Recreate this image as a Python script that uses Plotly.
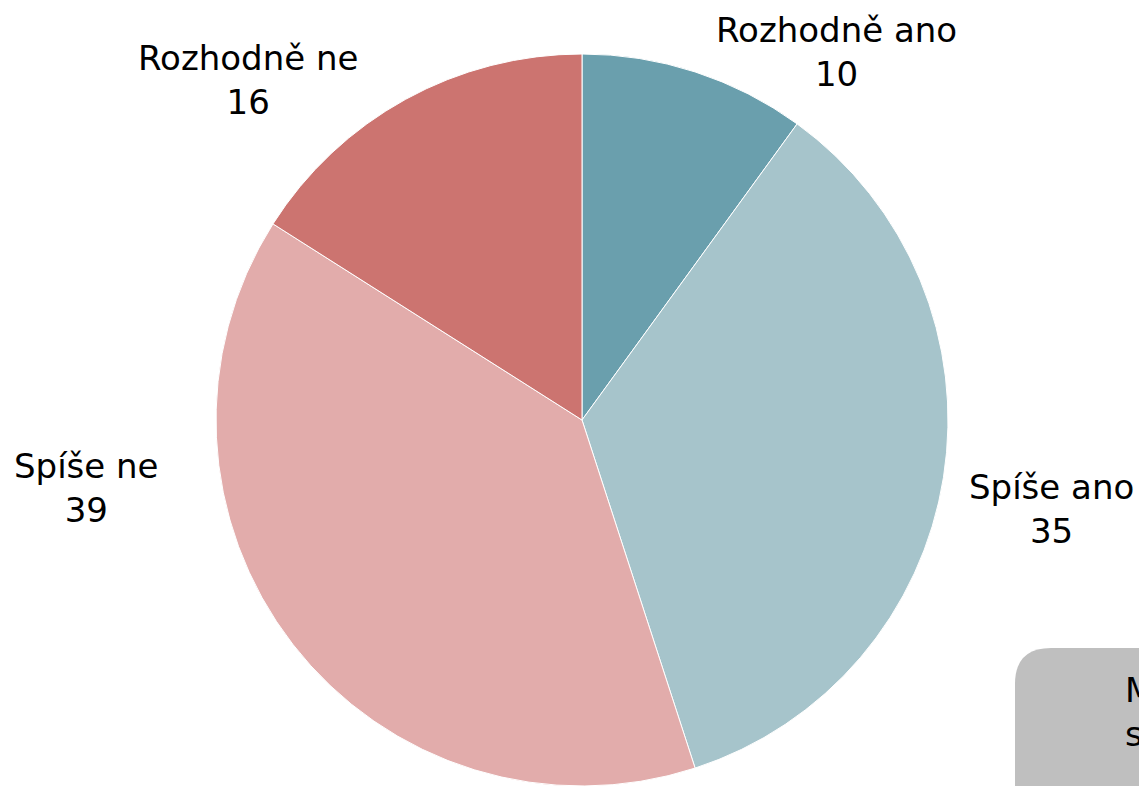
import plotly.graph_objects as go

W, H = 1139, 786

categories = ["Rozhodně ano", "Spíše ano", "Spíše ne", "Rozhodně ne"]
values = [10, 35, 39, 16]
colors = ["#6A9FAD", "#A6C4CB", "#E2ACAB", "#CC7470"]

# label centres in pixels (from top-left)
label_pos = [(836, 52), (1051, 509), (86, 488), (248, 80)]

cx, cy, r = 582, 420, 366

fig = go.Figure(go.Pie(
    labels=categories,
    values=values,
    sort=False,
    direction="clockwise",
    rotation=0,
    marker=dict(colors=colors, line=dict(color="white", width=1)),
    textinfo="none",
    hoverinfo="label+value",
    showlegend=False,
    domain=dict(x=[(cx - r) / W, (cx + r) / W],
                y=[max(0, (H - cy - r) / H), (H - cy + r) / H]),
))

def px(x):
    return x / W

def py(y):
    return (H - y) / H

annotations = []
for cat, val, (lx, ly) in zip(categories, values, label_pos):
    annotations.append(dict(
        x=px(lx), y=py(ly), xref="paper", yref="paper",
        text=f"{cat}<br>{val}", showarrow=False,
        xanchor="center", yanchor="middle", align="center",
        font=dict(family="DejaVu Sans", size=34, color="black"),
    ))

# partially visible grey box at bottom right
bx, by, rad = 1015, 648, 36
x0, x1 = px(bx), px(1400)
y0, y1 = py(900), py(by)
path = (f"M {x0},{y0} L {x0},{py(by + rad)} Q {x0},{y1} {px(bx + rad)},{y1} "
        f"L {x1},{y1} L {x1},{y0} Z")
shapes = [dict(type="path", xref="paper", yref="paper", path=path,
               fillcolor="#BFBFBF", line=dict(width=0), layer="above")]

annotations.append(dict(
    x=px(1123), y=py(712), xref="paper", yref="paper",
    text="M<br>s", showarrow=False, xanchor="left", yanchor="middle",
    align="left", font=dict(family="DejaVu Sans", size=34, color="black"),
))

fig.update_layout(
    width=W, height=H,
    margin=dict(l=0, r=0, t=0, b=0),
    paper_bgcolor="white", plot_bgcolor="white",
    annotations=annotations, shapes=shapes,
)

fig.write_html(
    "out.html",
    config={"displayModeBar": False},
    post_script="document.body.style.margin='0';document.body.style.overflow='hidden';",
)
